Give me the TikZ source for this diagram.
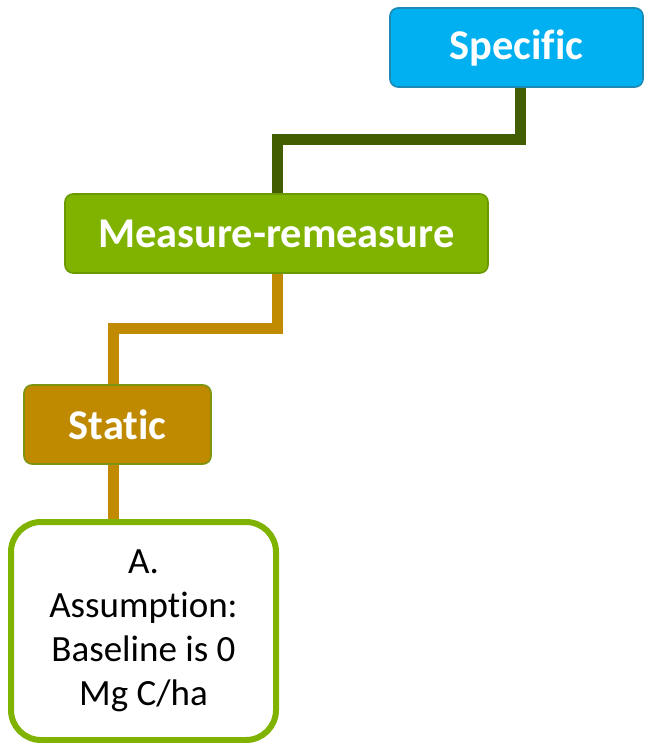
\documentclass[tikz,border=0pt]{standalone}
\usepackage{fontspec}
\setmainfont{Carlito}[RawFeature={-liga;-clig;-calt;-dlig}]
\usetikzlibrary{backgrounds}
\definecolor{specblue}{HTML}{00B0F0}
\definecolor{specedge}{HTML}{1C8AB4}
\definecolor{measgreen}{HTML}{7FB300}
\definecolor{measedge}{HTML}{6B9A00}
\definecolor{staticfill}{HTML}{BF8A00}
\definecolor{staticedge}{HTML}{7C9410}
\definecolor{darkline}{HTML}{425E00}
\definecolor{orangeline}{HTML}{C08B00}
\tikzset{
  titlebox/.style={rectangle, rounded corners=8pt, inner sep=0pt, line width=1.6pt,
    minimum height=79pt, text=white, font=\fontsize{42.4}{50}\selectfont\bfseries},
  notebox/.style={rectangle, rounded corners=30pt, inner sep=0pt, line width=6pt,
    draw=measgreen, fill=white, align=center, text=black,
    font=\fontsize{37}{44}\selectfont},
  linkdark/.style={draw=darkline, line width=11pt, line join=miter},
  linkorange/.style={draw=orangeline, line width=11pt, line join=miter}
}
\begin{document}
\begin{tikzpicture}[x=1pt,y=-1pt]
\useasboundingbox (0,0) rectangle (653,743);
\node[titlebox, fill=specblue, draw=specedge, minimum width=253pt] (spec) at (516.5,47.5) {Specific};
\node[titlebox, fill=measgreen, draw=measedge, minimum width=423pt] (meas) at (276.5,233.5) {Measure-remeasure};
\node[titlebox, fill=staticfill, draw=staticedge, minimum width=187pt] (stat) at (117.5,424.5) {Static};
\node[notebox, minimum width=265pt, minimum height=218pt] (note) at (143.5,631) {A.\\Assumption:\\Baseline is 0\\Mg C/ha};
\coordinate (k1) at (520.5,140);
\coordinate (k2) at (277,140);
\coordinate (k3) at (277,328.5);
\coordinate (k4) at (113.5,328.5);
\begin{scope}[on background layer]
\draw[linkdark] (spec.south -| k1) -- (k1) -- (k2) -- (k2 |- meas.north);
\draw[linkorange] (meas.south -| k3) -- (k3) -- (k4) -- (k4 |- stat.north);
\draw[linkorange] (stat.south -| k4) -- (k4 |- note.north);
\end{scope}
\end{tikzpicture}
\end{document}
